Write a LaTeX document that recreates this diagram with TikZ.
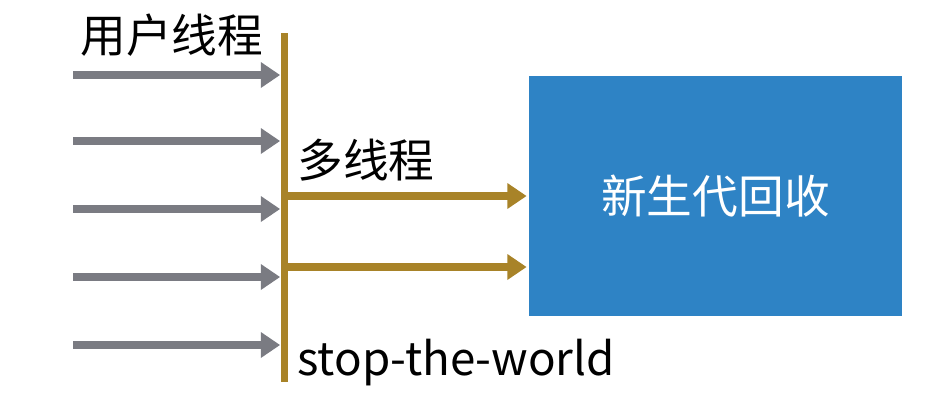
\documentclass[tikz,border=0pt]{standalone}
\usepackage{fontspec}
\setmainfont{Noto Sans CJK SC}
\usetikzlibrary{arrows.meta}
\definecolor{threadgray}{RGB}{122,123,130}
\definecolor{gcgold}{RGB}{168,131,40}
\definecolor{gcblue}{RGB}{46,131,197}
\begin{document}
\begin{tikzpicture}[
 font=\fontsize{26}{30}\selectfont,
 label/.style={anchor=base west,inner sep=0pt,text=black},
 userarrow/.style={-{Triangle[length=11pt,width=14pt]},line width=4pt,draw=threadgray},
 gcarrow/.style={-{Triangle[length=11pt,width=14pt]},line width=4pt,draw=gcgold},
 youngbox/.style={fill=gcblue,draw=none,minimum width=7.46cm,minimum height=4.8cm,text=white,inner sep=0pt}]
\useasboundingbox (0,0) rectangle (18.58,-8.04);
\node[fill=gcgold,draw=none,minimum width=0.14cm,minimum height=6.98cm,inner sep=0pt] (bar) at (5.68,-4.15) {};
\node[youngbox] (young) at (14.31,-3.92) {新生代回收};
\node[label] (usr) at (1.6,-1.04) {用户线程};
\node[label] (multi) at (5.94,-3.54) {多线程};
\node[label] (stw) at (5.94,-7.5) {stop-the-world};
% user threads run into the pause
\foreach \i/\y in {1/-1.5,2/-2.82,3/-4.18,4/-5.54,5/-6.9}{
 \coordinate (u\i) at (1.46,\y);
 \draw[userarrow] (u\i) -- (u\i -| bar.west);
}
% gc threads
\foreach \i/\y in {1/-3.92,2/-5.34}{
 \coordinate (g\i) at (5.68,\y);
 \draw[gcarrow] (g\i) -- ([xshift=-0.04cm]g\i -| young.west);
}
\end{tikzpicture}
\end{document}
